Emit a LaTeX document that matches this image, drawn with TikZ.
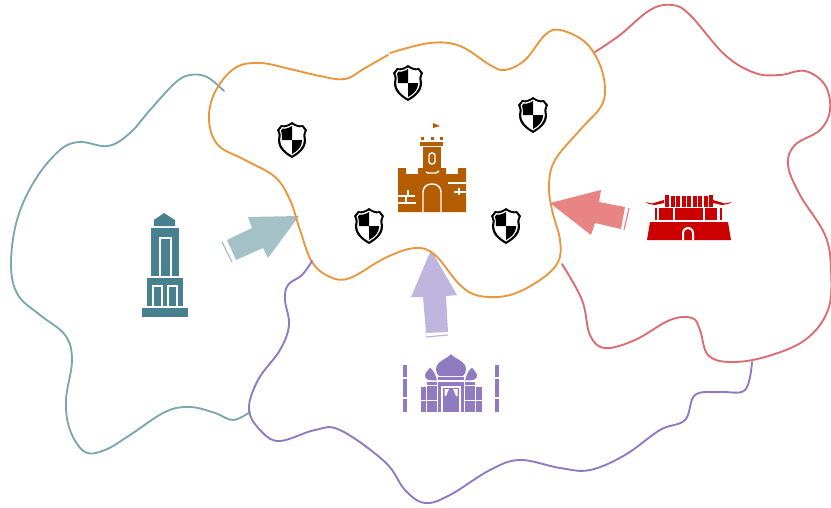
\documentclass[tikz,border=0pt]{standalone}
\definecolor{cTeal}{HTML}{7BA7B0}
\definecolor{cOrange}{HTML}{E9963C}
\definecolor{cRed}{HTML}{DD6B72}
\definecolor{cPurple}{HTML}{8C7AC2}
\definecolor{iTeal}{HTML}{47808F}
\definecolor{iOrange}{HTML}{B35C00}
\definecolor{iRed}{HTML}{CC0000}
\definecolor{iPurple}{HTML}{917BC0}
\definecolor{aTeal}{HTML}{A5C1C8}
\definecolor{aRed}{HTML}{E88484}
\definecolor{aPurple}{HTML}{BEB6DE}
\tikzset{
  border/.style={line width=1.4pt,line cap=round,line join=round},
  wl/.style={draw=white,line width=1.1pt},
  wt/.style={draw=white,line width=0.7pt},
  shieldicon/.pic={
    \fill[black] (0,-18) .. controls (-4,-15) and (-8,-14) .. (-11,-15) -- (-15,-10)
      .. controls (-13,-6) and (-13,-3) .. (-14,0) .. controls (-14,9) and (-7,14) .. (0,18)
      .. controls (7,14) and (14,9) .. (14,0) .. controls (13,-3) and (13,-6) .. (15,-10)
      -- (11,-15) .. controls (8,-14) and (4,-15) .. (0,-18) -- cycle;
    \fill[white] (0,-15.5) .. controls (-4,-13) and (-7.5,-12) .. (-10,-13) -- (-12.5,-9.5)
      .. controls (-11,-6) and (-11,-3) .. (-11.8,0) .. controls (-11.5,7.5) and (-6,12) .. (0,15.5)
      .. controls (6,12) and (11.5,7.5) .. (11.8,0) .. controls (11,-3) and (11,-6) .. (12.5,-9.5)
      -- (10,-13) .. controls (7.5,-12) and (4,-13) .. (0,-15.5) -- cycle;
    \fill[black] (0,-14) .. controls (-3,-12) and (-7,-10.8) .. (-9.5,-11.3) -- (-11,-9.3)
      .. controls (-10,-5.5) and (-10,-3) .. (-10.2,0) -- (0,0) -- cycle;
    \fill[black] (0,0) -- (10.2,0) .. controls (10,7) and (5.5,11) .. (0,14) -- cycle;
  }
}
\begin{document}
\begin{tikzpicture}[x=0.75pt,y=-0.75pt]
\useasboundingbox (0,0) rectangle (831,507);
% arrows
\fill[aTeal] (299,216) -- (248,217) -- (252,228) -- (227,240) -- (236,260) -- (263,248) -- (268,258) -- cycle;
\draw[aTeal,line width=0.9pt] (222,242) -- (232,262);
\fill[aRed] (550,203) -- (601,190) -- (599,202) -- (625,207) -- (621,229) -- (595,223) -- (591,235) -- cycle;
\draw[aRed,line width=0.9pt] (629,208) -- (624,230);
\fill[aPurple] (431,250) -- (457,295) -- (446,296) -- (448,332) -- (426,333) -- (423,297) -- (411,297) -- cycle;
\draw[aPurple,line width=0.9pt] (426,337) -- (448,335);
% regions
\draw[border,cTeal] plot[smooth,tension=0.62] coordinates {(224,91) (207,77) (190,75) (175,83) (150,110) (130,133) (108,146) (80,142) (60,150) (35,180) (17,220) (11,265) (18,295) (40,315) (65,335) (72,360) (66,400) (70,430) (85,452) (105,450) (130,435) (165,412) (190,407) (215,413) (233,420) (250,412)};
\draw[border,cOrange] plot[smooth,tension=0.62] coordinates {(388,55) (365,68) (345,79) (320,76) (290,69) (260,63) (235,68) (215,92) (209,120) (218,145) (245,160) (275,177) (290,200) (300,230) (312,262) (330,277) (350,278) (385,258) (415,248) (435,255) (460,285) (480,296) (510,295) (540,280) (558,262) (560,240) (552,210) (549,185) (555,160) (580,130) (600,108) (605,90) (600,65) (585,42) (560,30) (545,35) (525,60) (505,70) (490,65) (460,46) (430,43) (390,53)};
\draw[border,cRed] plot[smooth,tension=0.62] coordinates {(595,52) (620,35) (650,10) (672,5) (690,15) (725,55) (755,73) (780,75) (805,71) (825,85) (830,110) (820,130) (795,145) (788,165) (800,195) (825,235) (831,270) (828,310) (805,340) (765,357) (730,362) (708,355) (700,330) (692,318) (670,320) (635,340) (605,348) (590,335) (582,300) (562,264)};
\draw[border,cPurple] plot[smooth,tension=0.62] coordinates {(312,261) (302,275) (288,285) (285,300) (289,325) (280,350) (258,380) (249,410) (262,432) (280,441) (315,430) (340,430) (385,462) (405,490) (425,503) (450,495) (490,470) (520,460) (560,468) (590,470) (625,455) (660,430) (685,420) (695,395) (720,392) (745,390) (752,362)};
% shields
\foreach \p in {(408,83),(533,115),(292,140),(369,226),(506,226)} \pic at \p {shieldicon};
% castle
\fill[iOrange] (398,168) -- (406,168) -- (406,174) -- (418,174) -- (418,168) -- (426,168) -- (426,172) -- (437,172) -- (437,168) -- (446,168) -- (446,174) -- (458,174) -- (458,168) -- (466,168) -- (466,212) -- (398,212) -- cycle;
\fill[iOrange] (423,147) rectangle (441,168);
\fill[iOrange] (426,168) rectangle (438,172);
\draw[wl] (426,172) -- (428,173) -- (436,173) -- (439,171);
\fill[iOrange] (420,142) rectangle (443,145.5);
\foreach \x in {422,432,441} \fill[iOrange] (\x-1.5,137) rectangle (\x+1.5,140);
\fill[iOrange] (433,123) -- (440,126) -- (433,128) -- cycle;
\draw[wl,rounded corners=2pt] (429,164) rectangle (435,153);
\draw[wl,rounded corners=6pt] (423,212) -- (423,184) -- (441,184) -- (441,212);
\draw[wl] (448,183) -- (466,183) (454,192) -- (466,192) (459,188) -- (459,195);
\draw[wl] (398,203) -- (416,203) (398,196) -- (415,196) (408,190) -- (408,196) (406,196) -- (406,203);
% tower
\fill[iTeal] (154,226) -- (154,220) -- (164,213) -- (175,220) -- (175,226) -- cycle;
\fill[iTeal] (151,228) rectangle (179,276);
\draw[wl] (160,276) -- (160,238) -- (171,238) -- (171,276);
\fill[iTeal] (147,278) rectangle (183,306);
\draw[wl] (153,306) -- (153,286) -- (162,286) -- (162,306);
\draw[wl] (168,306) -- (168,286) -- (177,286) -- (177,306);
\fill[iTeal] (142,308) rectangle (188,317);
% palace
\fill[iRed] (647,240) -- (650,222) -- (728,222) -- (731,240) -- cycle;
\fill[white] (682,240) -- (682,233) arc (180:360:6) -- (694,240) -- (692,240) -- (692,233) arc (360:180:4) -- (684,240) -- cycle;
\fill[iRed] (659,208) rectangle (673,220);
\fill[iRed] (675,208) rectangle (703,220);
\fill[iRed] (704.5,208) rectangle (717,220);
\fill[iRed] (655,208) rectangle (656.5,220);
\fill[iRed] (720,208) rectangle (721.5,220);
\foreach \x/\t in {665/195,670.5/196,676/196,681.5/196,687/196,692.5/196,698/196,703.5/196,709/195} \fill[iRed] (\x,\t) rectangle (\x+4,207);
\fill[iRed] (645,202) -- (652,203.5) -- (664,200) -- (664,203) -- (655,205) -- (649,204) -- cycle;
\fill[iRed] (732,202) -- (725,203.5) -- (713,200) -- (713,203) -- (722,205) -- (728,204) -- cycle;
% taj
\foreach \x in {402.5,495} {
  \fill[iPurple] (\x,365) rectangle (\x+4,377);
  \fill[iPurple] (\x,378.5) rectangle (\x+4,397);
  \fill[iPurple] (\x,398.5) rectangle (\x+4,412);
}
\fill[iPurple] (451,354) .. controls (449,358) and (436,361) .. (436,369) .. controls (436,372) and (437,374) .. (439,376) -- (463,376) .. controls (465,374) and (466,372) .. (466,369) .. controls (466,361) and (453,358) .. (451,354) -- cycle;
\fill[iPurple] (438,377) rectangle (464,380);
\fill[iPurple] (430,367.5) .. controls (428,371) and (425,372) .. (425,376) .. controls (425,380) and (430,380.5) .. (437,380.5) .. controls (436,376) and (434,371) .. (430,367.5) -- cycle;
\fill[iPurple] (472,367.5) .. controls (474,371) and (477,372) .. (477,376) .. controls (477,380) and (472,380.5) .. (465,380.5) .. controls (466,376) and (468,371) .. (472,367.5) -- cycle;
\fill[iPurple] (421,387) rectangle (426,412);
\fill[iPurple] (476,387) rectangle (481.5,412);
\fill[iPurple] (427,382) rectangle (437,412);
\fill[iPurple] (465,382) rectangle (475,412);
\fill[iPurple] (438,381.5) rectangle (464,412);
\draw[wt] (427,385) -- (437,385) (465,385) -- (475,385) (421,400) -- (437,400) (465,400) -- (481.5,400);
\draw[wl] (442,412) -- (442,387) -- (460,387) -- (460,412);
\fill[white] (444.5,389) -- (449,389) -- (446,396) -- (444.5,396) -- cycle;
\fill[white] (457.5,389) -- (453,389) -- (456,396) -- (457.5,396) -- cycle;
\end{tikzpicture}
\end{document}
